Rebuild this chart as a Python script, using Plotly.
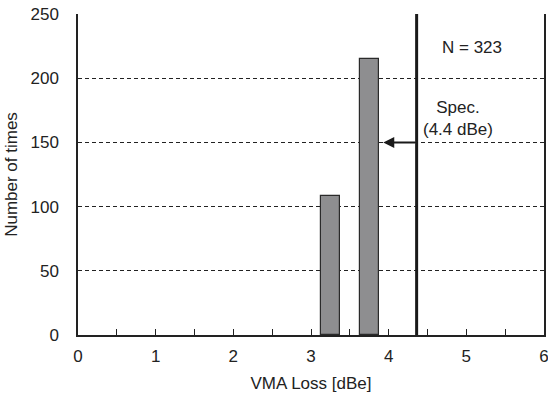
import plotly.graph_objects as go

# Data
bin_centers = [3.25, 3.75]
counts = [108, 215]
bar_width = 0.25
spec_value = 4.36
arrow_y = 150
arrow_head_x = 3.93
x_tickvals = [0, 0.5, 1, 1.5, 2, 2.5, 3, 3.5, 4, 4.5, 5, 5.5, 6]
x_ticktext = ["0", "", "1", "", "2", "", "3", "", "4", "", "5", "", "6"]
y_tickvals = [0, 50, 100, 150, 200, 250]

FONT = "Liberation Sans, Arial, sans-serif"
FS = 17

fig = go.Figure()
fig.add_trace(go.Bar(
    x=bin_centers, y=counts, width=[bar_width] * len(counts),
    marker=dict(color="#8e8e90", line=dict(color="#2a2a2a", width=1.2)),
    showlegend=False,
))

fig.add_shape(type="line", x0=spec_value, x1=spec_value, y0=0, y1=250,
              xref="x", yref="y", line=dict(color="#1a1a1a", width=3))

fig.add_annotation(x=arrow_head_x, y=arrow_y, ax=spec_value, ay=arrow_y,
                   xref="x", yref="y", axref="x", ayref="y",
                   showarrow=True, arrowhead=2, arrowsize=1.1, arrowwidth=2,
                   arrowcolor="#1a1a1a", text="")

fig.add_annotation(x=5.07, y=224, xref="x", yref="y", text="N = 323",
                   showarrow=False, font=dict(family=FONT, size=FS, color="#222"))
fig.add_annotation(x=4.89, y=169, xref="x", yref="y",
                   text="Spec.<br>(4.4 dBe)", showarrow=False, align="center",
                   font=dict(family=FONT, size=FS, color="#222"))

fig.update_layout(
    width=548, height=398,
    margin=dict(l=78, r=4, t=14, b=63),
    paper_bgcolor="white", plot_bgcolor="white",
    font=dict(family=FONT, size=FS, color="#222"),
    bargap=0,
)
fig.update_xaxes(
    range=[0, 6], tickvals=x_tickvals, ticktext=x_ticktext,
    ticks="inside", ticklen=6, tickcolor="#222", tickwidth=1,
    showline=True, linecolor="#222", linewidth=1.5,
    showgrid=False, zeroline=False, automargin=False,
    ticklabelstandoff=5, ticklabeloverflow="allow",
    title=dict(text="VMA Loss [dBe]", standoff=12, font=dict(size=FS)),
    tickfont=dict(size=FS),
)
fig.update_yaxes(
    range=[0, 250], tickvals=y_tickvals,
    showline=True, linecolor="#222", linewidth=1.5, mirror=True,
    showgrid=True, gridcolor="#222", griddash="4px,3px", gridwidth=1,
    zeroline=False, ticks="", automargin=False,
    ticklabelstandoff=14, ticklabeloverflow="allow",
    title=dict(text="Number of times", standoff=9, font=dict(size=FS)),
    tickfont=dict(size=FS),
)

fig.write_html("out.html")
